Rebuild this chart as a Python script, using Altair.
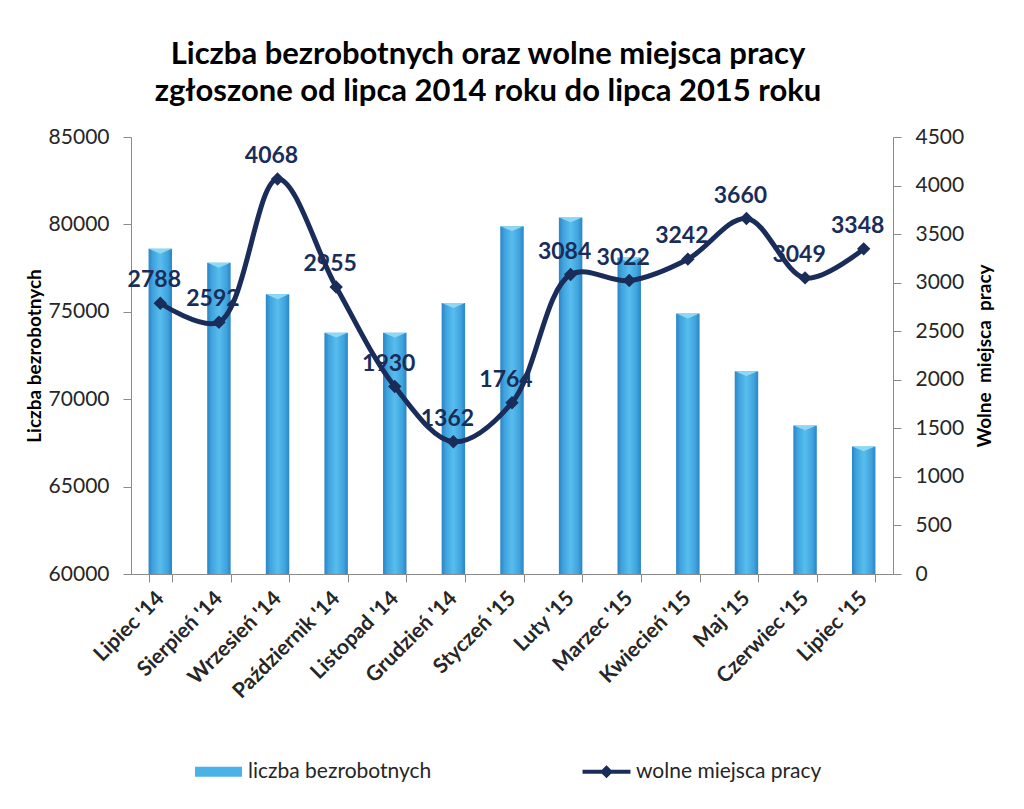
import altair as alt
import pandas as pd

months = ["Lipiec '14", "Sierpień '14", "Wrzesień '14", "Październik '14", "Listopad '14",
          "Grudzień '14", "Styczeń '15", "Luty '15", "Marzec '15", "Kwiecień '15",
          "Maj '15", "Czerwiec '15", "Lipiec '15"]
unemployed = [78600, 77800, 76000, 73800, 73800, 75500, 79900, 80400, 78100, 74900, 71600, 68500, 67300]
vacancies = [2788, 2592, 4068, 2955, 1930, 1362, 1764, 3084, 3022, 3242, 3660, 3049, 3348]
series_names = ["liczba bezrobotnych", "wolne miejsca pracy"]
left_ticks = [60000, 65000, 70000, 75000, 80000, 85000]
right_ticks = [0, 500, 1000, 1500, 2000, 2500, 3000, 3500, 4000, 4500]
title_lines = ["Liczba bezrobotnych oraz wolne miejsca pracy",
               "zgłoszone od lipca 2014 roku do lipca 2015 roku"]

df = pd.DataFrame({"month": months, "unemployed": unemployed, "vacancies": vacancies})
legend_df = pd.DataFrame({"series": series_names})

FONT = "Lato"
NAVY = "#1a2d5a"
AXIS_GRAY = "#8a8a8a"
TEXT = "#262626"

x_enc = alt.X(
    "month:N", sort=months, title=None,
    scale=alt.Scale(paddingInner=0.6, paddingOuter=0.3),
    axis=alt.Axis(labelAngle=315, labelAlign="right", labelBaseline="middle",
                  labelFontSize=21, labelFontWeight="bold", labelFont=FONT,
                  labelColor=TEXT, labelPadding=13, tickBand="extent", tickSize=8,
                  tickColor=AXIS_GRAY, domainColor=AXIS_GRAY, labelOverlap=False,
                  labelLimit=300, grid=False),
)

y_left = alt.Y(
    "unemployed:Q",
    scale=alt.Scale(domain=[60000, 85000], nice=False, zero=False),
    axis=alt.Axis(orient="left", values=left_ticks, format="d", title="Liczba bezrobotnych",
                  titleFontSize=19, titleFontWeight="bold", titleColor="#000000", titleFont=FONT,
                  titlePadding=4, labelFontSize=21, labelFont=FONT, labelColor=TEXT,
                  labelPadding=14, tickSize=8, tickColor=AXIS_GRAY, domainColor=AXIS_GRAY,
                  grid=False),
)

y_right = alt.Y(
    "vacancies:Q",
    scale=alt.Scale(domain=[0, 4500], nice=False),
    axis=alt.Axis(orient="right", values=right_ticks, format="d",
                  title="Wolne\u00a0 miejsca\u00a0 pracy", titleAngle=270, titleBaseline="top",
                  titleFontSize=19, titleFontWeight="bold", titleColor="#000000", titleFont=FONT,
                  titlePadding=12, labelFontSize=21, labelFont=FONT, labelColor=TEXT,
                  labelPadding=14, tickSize=8, tickColor=AXIS_GRAY, domainColor=AXIS_GRAY,
                  grid=False),
)

bar_gradient = alt.LinearGradient(
    gradient="linear", x1=0, x2=1, y1=0, y2=0,
    stops=[alt.GradientStop(offset=0, color="#2a84c4"),
           alt.GradientStop(offset=0.18, color="#3fa3dd"),
           alt.GradientStop(offset=0.5, color="#58bdee"),
           alt.GradientStop(offset=0.82, color="#3fa3dd"),
           alt.GradientStop(offset=1, color="#2a84c4")],
)

bars = alt.Chart(df).mark_bar(color=bar_gradient).encode(
    x=x_enc, y=y_left, y2=alt.datum(60000)
)

CAP_PATH = "M-1,0L1,0L0,0.42Z"
caps = alt.Chart(df).mark_point(shape=CAP_PATH, filled=True, size=530, color="#8fd8f4",
                                opacity=1, strokeWidth=0).encode(x=x_enc, y=y_left)

line = alt.Chart(df).mark_line(interpolate="catmull-rom", color=NAVY, strokeWidth=5).encode(
    x=x_enc, y=y_right
)
points = alt.Chart(df).mark_point(shape="diamond", filled=True, size=180, color=NAVY,
                                  opacity=1).encode(x=x_enc, y=y_right)
labels = alt.Chart(df).mark_text(dx=-6, dy=-23, fontSize=23, fontWeight="bold", color=NAVY,
                                 font=FONT).encode(
    x=x_enc, y=y_right, text=alt.Text("vacancies:Q", format="d")
)

BAR_SYM = "M-1,-0.21H1V0.21H-1Z"
LINE_SYM = "M-1.02,-0.09H1.02V0.09H-1.02Z M0,-0.28L0.28,0L0,0.28L-0.28,0Z"
legend_props = dict(orient="none", legendX=64, legendY=611, direction="horizontal", title=None,
                    symbolSize=2209, symbolStrokeWidth=0, labelFontSize=21, labelFont=FONT,
                    labelColor=TEXT, columnPadding=150, labelOffset=6, padding=0,
                    symbolOpacity=1, labelLimit=400)
legend_layer = alt.Chart(legend_df).transform_filter("false").mark_point(filled=True).encode(
    color=alt.Color("series:N", scale=alt.Scale(domain=series_names, range=["#4ab2e6", NAVY]),
                    legend=alt.Legend(**legend_props)),
    shape=alt.Shape("series:N", scale=alt.Scale(domain=series_names, range=[BAR_SYM, LINE_SYM]),
                    legend=alt.Legend(**legend_props)),
)

left = alt.layer(bars, caps)
right = alt.layer(line, points, labels)

chart = alt.layer(left, right, legend_layer).resolve_scale(y="independent").properties(
    width=762, height=437,
    autosize=alt.AutoSizeParams(type="none"),
    padding={"left": 123, "top": 129, "right": 123, "bottom": 219},
    title=alt.TitleParams(text=title_lines, fontSize=31, font=FONT, fontWeight="bold",
                          color="#000000", anchor="middle", dx=-24, offset=-6,
                          baseline="alphabetic", lineHeight=37),
).configure_view(stroke=None)

chart.save("out.html", embed_options={"renderer": "svg", "actions": False})
